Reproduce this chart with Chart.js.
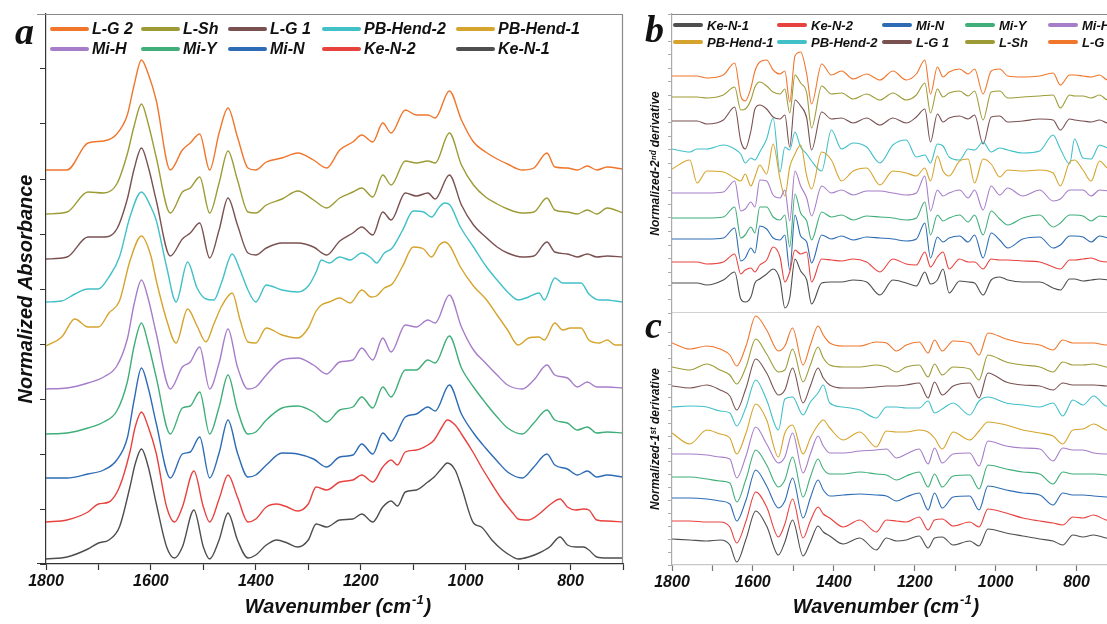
<!DOCTYPE html>
<html><head><meta charset="utf-8">
<script src="https://cdn.jsdelivr.net/npm/chart.js@4.4.0/dist/chart.umd.min.js"></script>
<style>
html,body{margin:0;padding:0;background:#fff;width:1107px;height:624px;overflow:hidden;position:relative;font-family:"Liberation Sans",Arial,sans-serif;}
canvas{position:absolute;}
.lg{position:absolute;font-weight:bold;font-style:italic;color:#111;white-space:nowrap;line-height:1;}
.lgl{position:absolute;border-radius:2px;}
.pl{position:absolute;font-family:"Liberation Serif","Times New Roman",serif;font-weight:bold;font-style:italic;font-size:38px;color:#111;line-height:1;}
</style></head>
<body>
<canvas id="ca" width="640" height="624" style="left:0;top:0;width:640px;height:624px"></canvas>
<canvas id="cb" width="490" height="314" style="left:640px;top:0;width:490px;height:314px"></canvas>
<canvas id="cc" width="490" height="311" style="left:640px;top:313px;width:490px;height:311px"></canvas>
<div class="pl" style="left:15px;top:12px">a</div>
<div class="pl" style="left:645px;top:10px">b</div>
<div class="pl" style="left:645px;top:306px">c</div>
<div id="legA"></div><div id="legB"></div>
<script>
// ---------- series ----------
const seriesNames  = ['L-G 2','L-Sh','L-G 1','PB-Hend-2','PB-Hend-1','Mi-H','Mi-Y','Mi-N','Ke-N-2','Ke-N-1'];
const seriesColors = ['#F0762C','#9D9B36','#7A5151','#41C0C8','#D5A42C','#A67DC9','#3FAE79','#2D6CB4','#E8423F','#4E4E4E'];

// ---------- panel a : absorbance (wavenumbers, cm-1) ----------
const gridL = [1800,1760,1720,1690,1665,1645,1632,1618,1605,1590,1563,1540,1525,1507,1488,1470,1453,1435,1415,1400,1380,1350,1320,1290,1265,1240,1215,1198,1177,1158,1142,1115,1094,1072,1058,1031,1008,985,962,940,920,892,870,845,830,806,787,768,750,730,700];
const gridK = [1800,1760,1720,1700,1680,1660,1640,1630,1618,1605,1590,1570,1555,1540,1518,1500,1488,1470,1453,1435,1415,1400,1380,1360,1340,1320,1300,1285,1265,1240,1215,1198,1177,1158,1142,1130,1115,1094,1072,1060,1045,1035,1020,1008,985,970,950,930,910,900,880,860,840,820,806,790,775,765,750,730,700];
const gridP = [1800,1770,1745,1720,1700,1680,1660,1640,1618,1600,1590,1570,1552,1530,1512,1495,1480,1465,1445,1430,1415,1400,1380,1350,1320,1300,1285,1275,1260,1240,1220,1198,1180,1170,1155,1140,1120,1100,1080,1065,1050,1040,1030,1010,985,960,940,920,900,880,860,850,830,815,800,780,765,745,730,715,700];

const aLG2 = [0,0,27,29,36,55,85,110,96,70,0,20,27,36,0,37,62,33,2,0,8,12,17,10,2,20,28,35,28,47,37,60,55,55,52,79,50,28,18,11,6,0,2,17,3,2,0,4,0,3,1];
const aLSh = [0,2,22,21,30,60,88,110,90,57,1,22,26,37,1,31,63,34,2,1,9,15,23,14,6,16,22,26,17,39,29,53,51,53,51,81,49,29,17,10,5,1,2,16,4,2,0,4,0,6,1];
const aLG1 = [0,2,22,22,30,60,90,111,92,59,3,20,26,36,1,29,61,34,6,4,11,16,16,12,4,18,26,32,24,47,39,66,63,66,60,84,54,34,22,12,6,2,3,17,7,5,2,5,2,3,2];
const aPB2 = [0,1,8,13,13,25,45,85,110,95,82,35,0,40,14,3,2,20,48,32,12,0,17,12,10,16,30,42,39,45,42,49,44,39,49,54,72,91,90,85,95,99,97,75,55,35,22,10,2,5,9,2,24,19,19,19,8,2,2,1,0];
const aPB1 = [0,9,27,19,19,33,45,85,110,90,66,26,3,37,20,4,22,40,53,26,4,3,18,11,8,18,35,41,44,48,43,56,49,50,58,62,80,99,97,89,101,104,100,79,60,46,31,16,1,8,9,6,23,16,18,18,6,3,6,1,1];
const aMiH = [0,1,6,12,23,50,85,109,90,56,0,22,27,42,0,26,60,22,0,2,14,29,31,24,15,27,29,41,29,51,37,64,62,69,66,94,62,39,26,14,4,0,9,24,14,11,2,7,2,2,1];
const aMiY = [0,1,6,12,23,52,88,111,90,57,0,26,28,42,0,27,59,24,0,2,14,26,28,22,12,24,27,37,26,47,37,64,64,74,71,98,66,47,31,17,6,0,11,24,14,11,4,7,1,2,1];
const aMiN = [0,0,4,8,18,40,78,110,90,55,0,24,26,41,0,25,58,25,1,3,13,25,24,19,11,21,23,34,24,45,37,61,64,71,67,93,64,45,30,17,6,0,11,24,13,9,3,7,1,3,1];
const aKeN2 = [0,2,10,18,20,35,70,95,110,95,69,15,0,15,51,15,0,23,47,25,0,3,15,18,15,11,18,35,32,40,42,47,40,55,62,57,70,72,77,82,95,102,97,88,69,55,38,22,9,3,2,8,17,23,15,12,13,12,2,1,0];
const aKeN1 = [0,2,10,16,19,32,72,95,110,92,56,12,1,12,49,12,0,19,46,19,1,4,14,19,16,12,19,35,32,39,40,45,37,52,58,53,67,69,77,82,91,96,89,72,36,32,19,9,2,0,2,6,12,22,14,12,12,9,2,1,1];
const absValues  = [aLG2,aLSh,aLG1,aPB2,aPB1,aMiH,aMiY,aMiN,aKeN2,aKeN1];
const absGrids   = [gridL,gridL,gridL,gridP,gridP,gridL,gridL,gridL,gridK,gridK];
const absOffsets = [394,350,305,262,218,175,130,86,42,5];

// ---------- panel b : 2nd derivative ----------
const gridB = [1800,1756,1738,1714,1673,1645,1630,1619,1605,1595,1583,1566,1550,1533,1521,1509,1496,1482,1467,1455,1430,1406,1381,1352,1319,1286,1254,1221,1196,1175,1161,1144,1130,1115,1089,1068,1052,1031,1011,990,970,933,891,858,840,817,805,784,764,743,723,700];
const bLG2 = [0,0,0,-2,1,13,-20,-25,-12,5,14,16,6,2,5,-26,20,24,2,-28,12,1,5,-3,2,-4,5,-4,2,16,-18,9,-1,4,7,2,7,-18,5,7,0,-1,0,3,-9,1,1,0,-1,1,-4,-1];
const bLSh = [0,0,0,-1,2,10,-13,-12,-3,10,15,11,5,3,8,-16,22,14,4,-31,11,3,4,-2,3,-3,4,-3,2,14,-16,8,0,4,6,1,6,-23,5,6,-1,0,1,2,-11,2,1,1,-1,2,-3,-1];
const bLG1 = [0,0,0,-3,1,14,-20,-28,-10,12,16,12,4,2,6,-26,21,15,3,-29,9,2,3,-2,3,-4,3,-2,4,12,-21,7,-1,3,5,2,6,-23,4,5,-1,0,2,1,-9,2,1,0,-1,1,-2,0];
const bPB2 = [0,-3,0,0,4,0,-5,-14,-9,-11,-3,10,31,-23,2,-1,17,2,-5,-12,-22,19,0,6,2,-14,4,9,-8,-6,-14,5,3,-8,-11,0,-1,7,-3,1,-1,-4,-2,14,0,-15,10,-9,-10,4,1,0];
const bPB1 = [0,9,-14,-2,-3,-9,-12,-5,-17,-8,4,-5,25,-10,-27,2,15,24,-7,-20,17,9,-12,-2,1,-16,-2,-4,-7,1,-12,13,-2,-7,8,10,-14,10,5,-8,-1,-2,-1,-4,-17,7,9,-1,-12,8,1,0];
const bMiH = [0,0,0,0,1,12,-18,-16,-9,-14,13,12,-2,-5,3,-28,22,7,-5,-23,7,0,3,-2,2,2,0,-2,0,17,-18,3,-3,0,3,-5,3,-17,7,-2,5,-3,3,-8,-6,3,3,3,-3,3,2,1];
const bMiY = [0,0,0,0,1,11,-20,-17,-9,-15,11,11,1,-2,3,-29,24,5,-3,-22,6,1,3,-2,2,1,0,-2,0,16,-17,3,-3,0,3,-4,3,-17,7,-1,-7,0,3,-9,-5,3,3,2,-3,2,1,0];
const bMiN = [0,0,0,0,1,11,-22,-19,-9,-14,13,10,1,-1,4,-31,24,3,-3,-24,4,0,3,-1,2,1,0,-2,0,16,-19,2,-3,1,3,-3,4,-19,6,-1,-9,0,2,-9,-6,3,3,2,-3,3,1,0];
const bKeN2 = [0,0,0,-2,0,8,-12,-8,-6,-10,-3,2,15,5,-20,-10,12,8,10,-20,3,2,1,3,0,-10,3,-2,-3,10,-5,5,10,-7,3,0,0,-7,3,2,2,1,0,-5,-7,2,2,3,4,1,0,0];
const bKeN1 = [0,0,0,-2,3,11,-16,-19,-14,0,4,9,14,3,-25,-15,24,12,3,-21,0,1,1,3,1,-12,3,0,-3,11,-1,3,14,-10,2,1,0,-12,3,6,3,1,1,-5,-7,4,4,2,3,4,3,2];
const d2Values  = [bLG2,bLSh,bLG1,bPB2,bPB1,bMiH,bMiY,bMiN,bKeN2,bKeN1];
const d2Offsets = [237,216,192,164,144,120,95,74,51,30];

// ---------- panel c : 1st derivative ----------
const gridC = [1800,1756,1714,1681,1657,1640,1617,1593,1566,1537,1521,1502,1476,1458,1439,1426,1410,1377,1336,1295,1270,1245,1221,1189,1167,1151,1132,1105,1064,1041,1019,974,933,891,858,834,809,784,758,727,700];
const cLG2 = [0,-6,-3,-6,-12,-23,-3,27,13,-8,-3,15,-22,-2,17,8,0,-3,-3,1,0,-8,-2,1,-10,3,-8,2,0,-12,10,4,0,-2,-7,3,0,0,0,-2,-2];
const cLSh = [0,-3,3,-3,-8,-17,0,28,13,-5,-3,18,-15,2,20,9,2,0,0,2,0,-5,0,2,-10,3,-8,0,-2,-13,12,5,2,0,-5,5,2,2,3,0,-2];
const cLG1 = [0,-2,1,-4,-10,-24,-2,27,13,-9,-4,18,-17,0,18,8,1,-2,-2,-1,0,0,1,3,-12,4,-9,0,3,-12,13,4,1,0,-4,3,1,1,1,0,-1];
const cPB2 = [0,1,0,-4,-6,-19,0,27,7,-23,8,10,-8,5,14,22,4,0,-3,-11,0,0,-1,-1,6,-6,-2,4,-8,6,10,4,2,0,4,-9,7,2,11,1,0];
const cPB1 = [0,-11,3,-1,-5,-21,0,29,13,-24,0,8,-21,-5,8,13,5,-7,1,-14,2,1,1,3,1,-5,-16,1,-7,2,11,8,3,0,-3,-11,3,4,9,3,1];
const cMiH = [0,0,-1,-3,-5,-24,-2,27,10,-9,-3,21,-19,0,18,8,1,1,3,4,5,-4,0,5,-10,6,-9,0,1,-12,13,8,6,5,-7,6,4,4,1,0,0];
const cMiY = [0,0,-2,-4,-6,-25,-2,27,12,-10,-3,20,-20,0,18,8,3,3,5,3,2,-3,1,5,-10,3,-10,1,2,-12,12,8,5,3,-7,5,3,3,3,2,0];
const cMiN = [0,0,-1,-3,-6,-23,-2,28,12,-10,-3,20,-20,0,18,8,2,3,4,3,2,-3,1,5,-12,5,-10,1,2,-12,12,8,5,3,-7,5,3,3,2,1,0];
const cKeN2 = [0,0,-1,-1,-6,-22,0,29,14,-16,-3,22,-17,0,14,7,3,-6,1,-11,1,0,-1,4,-9,1,2,-5,-1,-6,12,8,3,0,-2,-4,4,3,6,1,0];
const cKeN1 = [0,-1,-2,-1,-6,-23,0,28,13,-16,-3,19,-17,-3,13,7,3,-5,1,-11,1,-2,-1,3,-9,1,2,-6,-2,-7,10,6,3,0,-2,-6,4,2,4,1,0];
const d1Values  = [cLG2,cLSh,cLG1,cPB2,cPB1,cMiH,cMiY,cMiN,cKeN2,cKeN1];
const d1Offsets = [222,198,179,158,132,111,88,67,44,26];

const xTickValues = [1800,1600,1400,1200,1000,800];
const legendOrderB = ['Ke-N-1','Ke-N-2','Mi-N','Mi-Y','Mi-H','PB-Hend-1','PB-Hend-2','L-G 1','L-Sh','L-G 2'];

// ---------- helpers ----------
const FAM = '"Liberation Sans", Arial, sans-serif';
function makeSets(grids, vals, offs, lw){
  return seriesNames.map((n,i)=>({
    label:n,
    data:(Array.isArray(grids[0])?grids[i]:grids).map((w,j)=>({x:w,y:vals[i][j]+offs[i]})),
    borderColor:seriesColors[i], borderWidth:lw, pointRadius:0,
    cubicInterpolationMode:'monotone', fill:false
  })).reverse();
}
function xScale(axisColor, tickColor, height){
  return {
    type:'linear', reverse:true, min:700, max:1800, display:true,
    afterBuildTicks:s=>{ const t=[]; for(let v=1800; v>=700; v-=100) t.push({value:v}); s.ticks=t; },
    ticks:{ callback:v=> xTickValues.includes(v)? String(v):'', autoSkip:false, maxRotation:0, color:'#111', padding:2,
            font:{family:FAM,size:16,weight:'bold',style:'italic'} },
    grid:{ drawOnChartArea:false, drawTicks:true, tickLength:6, color:tickColor, tickWidth:1.2 },
    border:{ display:true, color:axisColor, width:1.3 },
    title:{ display:false },
    afterFit:s=>{ s.height=height; }
  };
}
function yScale(max, step, title, fsize, tpad, width, axisColor, tickLen){
  return {
    type:'linear', min:0, max:max,
    ticks:{ display:false, stepSize:step },
    grid:{ drawOnChartArea:false, drawTicks:true, tickLength:tickLen, color:axisColor },
    border:{ display:true, color:axisColor, width:1.2 },
    title:{ display:true, text:title, color:'#111', padding:{top:tpad,bottom:0},
            font:{family:FAM,size:fsize,weight:'bold',style:'italic'} },
    afterFit:s=>{ s.width=width; }
  };
}
// x-axis title with a real superscript
function xTitlePlugin(cx, cy){
  return { id:'xt'+Math.random().toString(36).slice(2), afterDraw(ch){
    const c=ch.ctx; c.save(); c.fillStyle='#111'; c.textBaseline='alphabetic';
    const f1='italic bold 20px '+FAM, f2='italic bold 13px '+FAM;
    const p1='Wavenumber (cm', p2='-1', p3=')';
    c.font=f1; const w1=c.measureText(p1).width, w3=c.measureText(p3).width;
    c.font=f2; const w2=c.measureText(p2).width;
    let x=cx-(w1+w2+w3+2)/2; const y=cy+7;
    c.font=f1; c.fillText(p1,x,y); x+=w1+1;
    c.font=f2; c.fillText(p2,x,y-9); x+=w2+1;
    c.font=f1; c.fillText(p3,x,y);
    c.restore(); } };
}
function framePlugin(opt){
  return { id:'frame'+Math.random().toString(36).slice(2), afterDraw(ch){
    const c=ch.ctx, a=ch.chartArea; c.save(); c.lineWidth=1.2;
    if(opt.top){ c.strokeStyle=opt.top; c.beginPath(); c.moveTo(a.left-(opt.ext||0),a.top+0.5); c.lineTo(a.right,a.top+0.5); c.stroke(); }
    if(opt.right){ c.strokeStyle=opt.right; c.beginPath(); c.moveTo(a.right-0.5,a.top); c.lineTo(a.right-0.5,a.bottom); c.stroke(); }
    if(opt.bottom){ c.strokeStyle=opt.bottom; c.beginPath(); c.moveTo(a.left-(opt.ext||0),a.bottom-0.5); c.lineTo(a.right,a.bottom-0.5); c.stroke(); }
    c.restore(); } };
}
const common = { responsive:false, animation:false, events:[],
  plugins:{ legend:{display:false}, tooltip:{enabled:false} } };

// ---------- chart a ----------
new Chart(document.getElementById('ca'), {
  type:'line',
  data:{ datasets: makeSets(absGrids, absValues, absOffsets, 1.4) },
  options:Object.assign({}, common, {
    layout:{ padding:{left:0,right:17,top:14,bottom:0} },
    scales:{ x:xScale('#333','#333',60), y:yScale(550,55,'Normalized Absorbance',20,14,46,'#333',6) }
  }),
  plugins:[framePlugin({top:'#8a8a8a', right:'#8a8a8a', bottom:'#333', ext:9}), xTitlePlugin(338,606)]
});
// ---------- chart b ----------
new Chart(document.getElementById('cb'), {
  type:'line',
  data:{ datasets: makeSets(gridB, d2Values, d2Offsets, 1.1) },
  options:Object.assign({}, common, {
    layout:{ padding:{left:0,right:13,top:14,bottom:1} },
    scales:{ x:Object.assign(xScale('#bbb','#999',0),{display:false}),
             y:yScale(299,13.6,'Normalized-2\u207F\u1D48 derivative',12,8,32,'#aaa',4) }
  }),
  plugins:[framePlugin({top:'#8a8a8a', bottom:'#d0d0d0'})]
});
// ---------- chart c ----------
new Chart(document.getElementById('cc'), {
  type:'line',
  data:{ datasets: makeSets(gridC, d1Values, d1Offsets, 1.1) },
  options:Object.assign({}, common, {
    layout:{ padding:{left:0,right:13,top:0,bottom:0} },
    scales:{ x:xScale('#c8c8c8','#777',59),
             y:yScale(252,12.9,'Normalized-1\u02E2\u1D57 derivative',12,8,32,'#aaa',4) }
  }),
  plugins:[xTitlePlugin(246,293)]
});

// ---------- legends ----------
function legend(el, names, cols, rows, lineW, gap, fs){
  names.forEach((n,k)=>{
    const i=seriesNames.indexOf(n), x=cols[k%5], y=rows[Math.floor(k/5)];
    const l=document.createElement('div'); l.className='lgl';
    l.style.cssText+=`left:${x}px;top:${y-2}px;width:${lineW}px;height:4px;background:${seriesColors[i]}`;
    const t=document.createElement('div'); t.className='lg'; t.textContent=n;
    t.style.cssText+=`left:${x+lineW+gap}px;top:${y-fs*0.5}px;font-size:${fs}px`;
    el.appendChild(l); el.appendChild(t);
  });
}
legend(document.getElementById('legA'), seriesNames, [50,141,228,322,456], [29,49], 39, 3, 16);
legend(document.getElementById('legB'), legendOrderB, [673,777,882,965,1048], [25,42], 30, 4, 13);
</script>
</body></html>
